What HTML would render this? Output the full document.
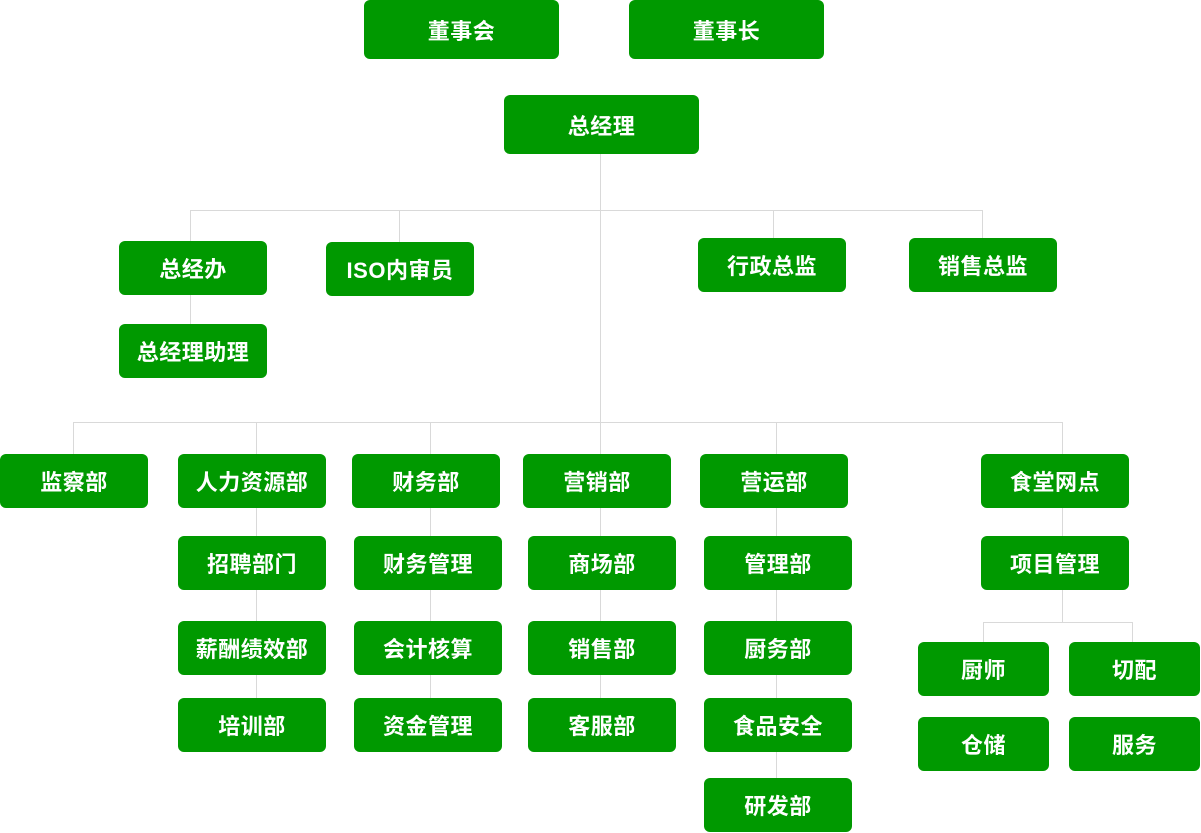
<!DOCTYPE html>
<html><head><meta charset="utf-8"><style>
body{margin:0;width:1201px;height:833px;background:#fff;position:relative;overflow:hidden;font-family:"Liberation Sans","Noto Sans CJK SC",sans-serif}
.b{position:absolute;background:#009900;color:#fff;border-radius:6px;display:flex;align-items:center;justify-content:center;font-size:22px;font-weight:bold;letter-spacing:0.5px}
.l{position:absolute;background:#d9d9d9}
.h{height:1px}.v{width:1px}
</style></head><body>
<div class="l v" style="left:600px;top:154px;height:268px"></div>
<div class="l h" style="left:190px;top:210px;width:793px"></div>
<div class="l v" style="left:190px;top:210px;height:31px"></div>
<div class="l v" style="left:399px;top:210px;height:32px"></div>
<div class="l v" style="left:773px;top:210px;height:28px"></div>
<div class="l v" style="left:982px;top:210px;height:28px"></div>
<div class="l v" style="left:190px;top:295px;height:29px"></div>
<div class="l h" style="left:73px;top:422px;width:990px"></div>
<div class="l v" style="left:73px;top:422px;height:32px"></div>
<div class="l v" style="left:256px;top:422px;height:276px"></div>
<div class="l v" style="left:430px;top:422px;height:276px"></div>
<div class="l v" style="left:600px;top:422px;height:276px"></div>
<div class="l v" style="left:776px;top:422px;height:356px"></div>
<div class="l v" style="left:1062px;top:422px;height:200px"></div>
<div class="l h" style="left:983px;top:622px;width:150px"></div>
<div class="l v" style="left:983px;top:622px;height:20px"></div>
<div class="l v" style="left:1132px;top:622px;height:20px"></div>

<div class="b" style="left:364px;top:0;width:195px;height:59px">董事会</div>
<div class="b" style="left:629px;top:0;width:195px;height:59px">董事长</div>
<div class="b" style="left:504px;top:95px;width:195px;height:59px">总经理</div>
<div class="b" style="left:119px;top:241px;width:148px;height:54px">总经办</div>
<div class="b" style="left:326px;top:242px;width:148px;height:54px">ISO内审员</div>
<div class="b" style="left:698px;top:238px;width:148px;height:54px">行政总监</div>
<div class="b" style="left:909px;top:238px;width:148px;height:54px">销售总监</div>
<div class="b" style="left:119px;top:324px;width:148px;height:54px">总经理助理</div>

<div class="b" style="left:0;top:454px;width:148px;height:54px">监察部</div>
<div class="b" style="left:178px;top:454px;width:148px;height:54px">人力资源部</div>
<div class="b" style="left:352px;top:454px;width:148px;height:54px">财务部</div>
<div class="b" style="left:523px;top:454px;width:148px;height:54px">营销部</div>
<div class="b" style="left:700px;top:454px;width:148px;height:54px">营运部</div>
<div class="b" style="left:981px;top:454px;width:148px;height:54px">食堂网点</div>

<div class="b" style="left:178px;top:536px;width:148px;height:54px">招聘部门</div>
<div class="b" style="left:354px;top:536px;width:148px;height:54px">财务管理</div>
<div class="b" style="left:528px;top:536px;width:148px;height:54px">商场部</div>
<div class="b" style="left:704px;top:536px;width:148px;height:54px">管理部</div>
<div class="b" style="left:981px;top:536px;width:148px;height:54px">项目管理</div>

<div class="b" style="left:178px;top:621px;width:148px;height:54px">薪酬绩效部</div>
<div class="b" style="left:354px;top:621px;width:148px;height:54px">会计核算</div>
<div class="b" style="left:528px;top:621px;width:148px;height:54px">销售部</div>
<div class="b" style="left:704px;top:621px;width:148px;height:54px">厨务部</div>

<div class="b" style="left:178px;top:698px;width:148px;height:54px">培训部</div>
<div class="b" style="left:354px;top:698px;width:148px;height:54px">资金管理</div>
<div class="b" style="left:528px;top:698px;width:148px;height:54px">客服部</div>
<div class="b" style="left:704px;top:698px;width:148px;height:54px">食品安全</div>
<div class="b" style="left:704px;top:778px;width:148px;height:54px">研发部</div>

<div class="b" style="left:918px;top:642px;width:131px;height:54px">厨师</div>
<div class="b" style="left:1069px;top:642px;width:131px;height:54px">切配</div>
<div class="b" style="left:918px;top:717px;width:131px;height:54px">仓储</div>
<div class="b" style="left:1069px;top:717px;width:131px;height:54px">服务</div>
</body></html>
